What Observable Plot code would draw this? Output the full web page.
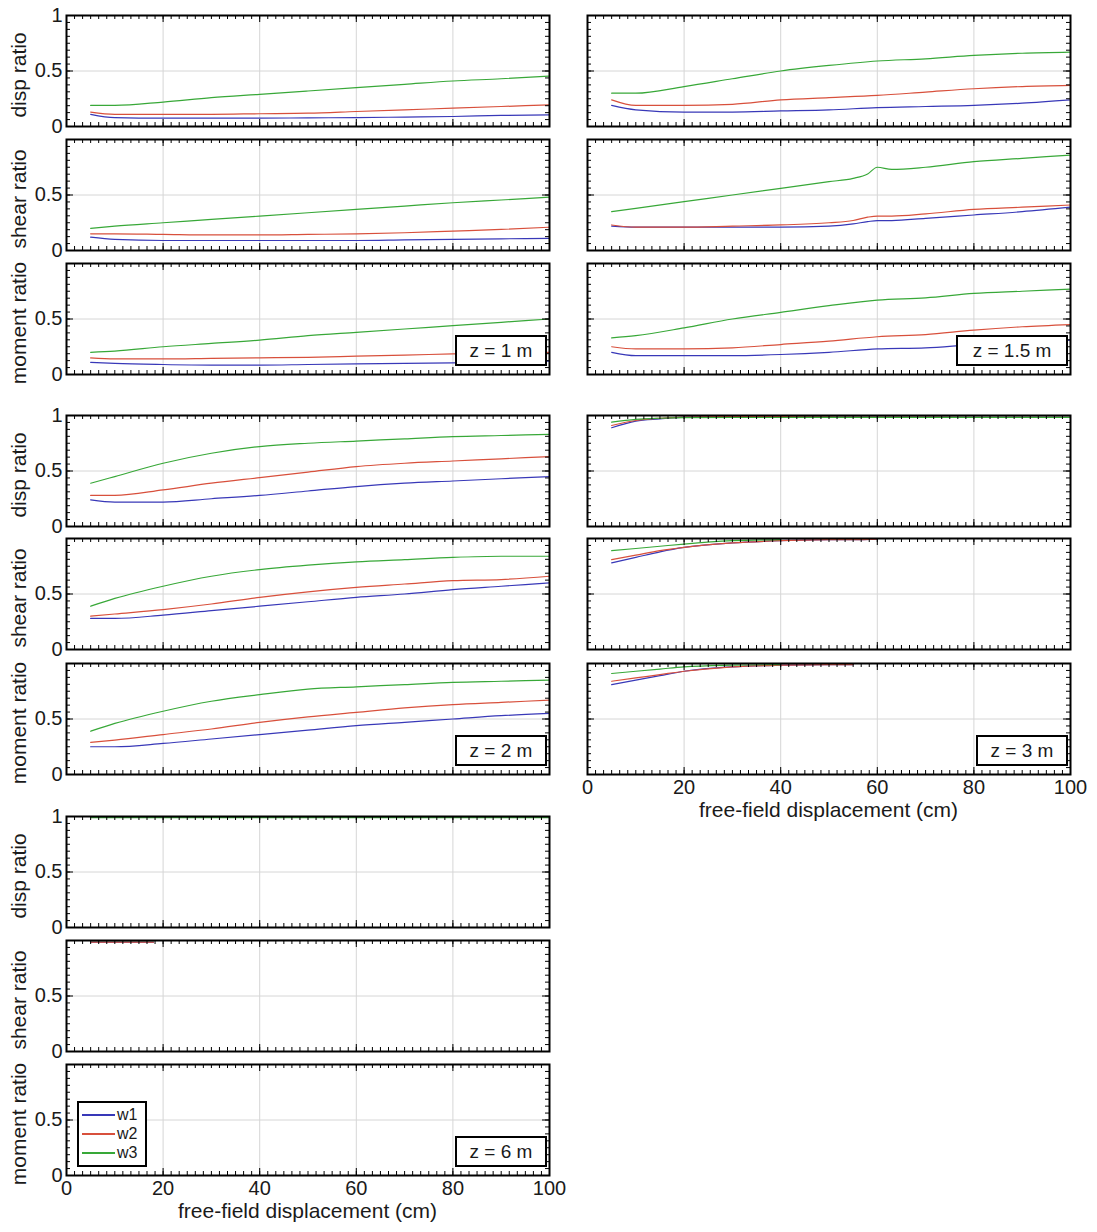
<!DOCTYPE html>
<html><head><meta charset="utf-8">
<script src="https://cdn.jsdelivr.net/npm/d3@7"></script>
<script src="https://cdn.jsdelivr.net/npm/@observablehq/plot@0.6"></script>
<style>
body{margin:0;background:#fff;}
#root{position:relative;width:1097px;height:1232px;font-family:"Liberation Sans",Arial,sans-serif;color:#1a1a1a;overflow:hidden;background:#fff}
.panel{position:absolute}
.ylab{position:absolute;transform:translate(-50%,-50%) rotate(-90deg);white-space:nowrap;font-size:21px}
.xlab{position:absolute;transform:translateX(-50%);white-space:nowrap;font-size:21px}
.zbox{position:absolute;border:2px solid #000;background:#fff;font-size:19px;display:flex;align-items:center;justify-content:center;box-sizing:border-box;white-space:nowrap}
.legend{position:absolute;border:2px solid #000;background:#fff;box-sizing:border-box;font-size:16px}
.legend .row{position:absolute;left:3px;height:18px;display:flex;align-items:center}
.legend .sw{width:33px;height:0;border-top:2px solid;margin-right:2px}
</style></head><body><div id="root"></div>
<script>
// ---------------- data ----------------
const series = ["w1", "w2", "w3"];
const seriesColors = ["#3838b8", "#d8503c", "#38a838"];
const quantities = ["disp ratio", "shear ratio", "moment ratio"];
const depthLabels = ["z = 1 m", "z = 1.5 m", "z = 2 m", "z = 3 m", "z = 6 m"];
const xTickLabels = [0, 20, 40, 60, 80, 100];
const xAxisTitle = "free-field displacement (cm)";

const x_std = [5, 10, 20, 30, 40, 50, 60, 70, 80, 90, 100];
const x_bump = [5, 10, 20, 30, 40, 50, 55, 58, 60, 63, 70, 80, 90, 100];
const x_z3 = [5, 10, 15, 20, 30, 40, 50, 55, 60, 70, 80, 90, 100];
const x_z6 = [5, 10, 15, 18, 20, 30, 40, 50, 60, 70, 80, 90, 100];

// z = 1 m  (rows: w1, w2, w3)
const z1_disp = [
  [0.11, 0.08, 0.075, 0.075, 0.075, 0.078, 0.08, 0.085, 0.09, 0.1, 0.105],
  [0.13, 0.11, 0.11, 0.11, 0.115, 0.12, 0.135, 0.15, 0.165, 0.18, 0.195],
  [0.19, 0.19, 0.22, 0.26, 0.29, 0.32, 0.35, 0.38, 0.41, 0.43, 0.455]];
const z1_shear = [
  [0.12, 0.1, 0.09, 0.09, 0.09, 0.09, 0.09, 0.095, 0.1, 0.105, 0.11],
  [0.15, 0.15, 0.145, 0.14, 0.14, 0.145, 0.15, 0.16, 0.175, 0.19, 0.21],
  [0.2, 0.22, 0.25, 0.28, 0.31, 0.34, 0.37, 0.4, 0.43, 0.455, 0.48]];
const z1_moment = [
  [0.11, 0.1, 0.09, 0.085, 0.085, 0.09, 0.095, 0.1, 0.105, 0.11, 0.12],
  [0.15, 0.14, 0.14, 0.145, 0.15, 0.155, 0.165, 0.175, 0.185, 0.195, 0.2],
  [0.2, 0.21, 0.25, 0.28, 0.31, 0.35, 0.38, 0.41, 0.44, 0.47, 0.5]];

// z = 1.5 m
const z15_disp = [
  [0.19, 0.15, 0.13, 0.13, 0.14, 0.15, 0.17, 0.18, 0.19, 0.21, 0.24],
  [0.24, 0.19, 0.19, 0.2, 0.24, 0.26, 0.28, 0.31, 0.34, 0.36, 0.37],
  [0.3, 0.3, 0.36, 0.43, 0.5, 0.55, 0.59, 0.61, 0.64, 0.66, 0.67]];
const z15_shear = [ // on x_bump
  [0.22, 0.21, 0.21, 0.21, 0.21, 0.22, 0.24, 0.26, 0.27, 0.27, 0.29, 0.32, 0.35, 0.39],
  [0.23, 0.21, 0.21, 0.22, 0.23, 0.25, 0.27, 0.3, 0.31, 0.31, 0.33, 0.37, 0.39, 0.41],
  [0.35, 0.38, 0.44, 0.5, 0.56, 0.62, 0.65, 0.69, 0.75, 0.73, 0.75, 0.8, 0.83, 0.86]];
const z15_moment = [
  [0.2, 0.17, 0.17, 0.17, 0.18, 0.2, 0.23, 0.24, 0.27, 0.29, 0.31],
  [0.25, 0.23, 0.23, 0.24, 0.27, 0.3, 0.34, 0.36, 0.4, 0.43, 0.45],
  [0.33, 0.35, 0.42, 0.5, 0.56, 0.62, 0.67, 0.69, 0.73, 0.75, 0.77]];

// z = 2 m
const z2_disp = [
  [0.24, 0.22, 0.22, 0.25, 0.28, 0.32, 0.36, 0.39, 0.41, 0.43, 0.45],
  [0.28, 0.28, 0.33, 0.39, 0.44, 0.49, 0.54, 0.57, 0.59, 0.61, 0.63],
  [0.39, 0.45, 0.57, 0.66, 0.72, 0.75, 0.77, 0.79, 0.81, 0.82, 0.83]];
const z2_shear = [
  [0.28, 0.28, 0.31, 0.35, 0.39, 0.43, 0.47, 0.5, 0.54, 0.57, 0.6],
  [0.3, 0.32, 0.36, 0.41, 0.47, 0.52, 0.56, 0.59, 0.62, 0.63, 0.66],
  [0.39, 0.46, 0.57, 0.66, 0.72, 0.76, 0.79, 0.81, 0.83, 0.84, 0.84]];
const z2_moment = [
  [0.25, 0.25, 0.28, 0.32, 0.36, 0.4, 0.44, 0.47, 0.5, 0.53, 0.55],
  [0.29, 0.31, 0.36, 0.41, 0.47, 0.52, 0.56, 0.6, 0.63, 0.65, 0.67],
  [0.39, 0.46, 0.57, 0.66, 0.72, 0.77, 0.79, 0.81, 0.83, 0.84, 0.85]];

// z = 3 m  (null = no value)
const z3_disp = [
  [0.89, 0.95, 0.97, 0.985, 0.99, 0.993, 0.995, 0.996, 0.996, 0.997, 0.998, 0.998, 0.998],
  [0.91, 0.955, 0.975, 0.985, 0.99, 0.993, 0.995, 0.996, 0.996, 0.997, 0.998, 0.998, 0.998],
  [0.94, 0.965, 0.975, 0.98, 0.982, 0.982, 0.983, 0.983, 0.983, 0.983, 0.983, 0.983, 0.983]];
const z3_shear = [
  [0.78, 0.83, 0.88, 0.92, 0.96, 0.98, 0.99, 0.99, 0.995, null, null, null, null],
  [0.81, 0.85, 0.89, 0.92, 0.96, 0.98, 0.99, 0.99, 0.995, null, null, null, null],
  [0.89, 0.91, 0.93, 0.95, 0.98, 0.99, null, null, null, null, null, null, null]];
const z3_moment = [
  [0.81, 0.85, 0.89, 0.93, 0.97, 0.985, 0.99, 0.99, null, null, null, null, null],
  [0.84, 0.87, 0.9, 0.93, 0.97, 0.985, 0.99, 0.99, null, null, null, null, null],
  [0.91, 0.93, 0.95, 0.97, 0.985, 0.99, null, null, null, null, null, null, null]];

// z = 6 m
const z6_disp = [
  [0.995, 0.995, 0.995, 0.995, 0.995, 0.995, 0.995, 0.995, 0.995, 0.995, 0.995, 0.995, 0.995],
  [0.995, 0.995, 0.995, 0.995, 0.995, 0.995, 0.995, 0.995, 0.995, 0.995, 0.995, 0.995, 0.995],
  [0.99, 0.99, 0.99, 0.99, 0.99, 0.99, 0.99, 0.99, 0.99, 0.99, 0.99, 0.99, 0.99]];
const z6_shear = [
  [0.985, 0.985, 0.985, 0.985, null, null, null, null, null, null, null, null, null],
  [0.985, 0.985, 0.985, 0.985, null, null, null, null, null, null, null, null, null],
  [0.998, 0.998, 0.998, 0.998, null, null, null, null, null, null, null, null, null]];
const z6_moment = [
  [1, 1, 1, 1, null, null, null, null, null, null, null, null, null],
  [1, 1, 1, 1, null, null, null, null, null, null, null, null, null],
  [1, 1, 1, 1, null, null, null, null, null, null, null, null, null]];

// ---------------- layout ----------------
const W = 483, H = 111;
const colLeft = [66, 587];
const rowTops = [[15, 139, 263], [415, 538, 663], [816, 940, 1064]];

const groups = [
  {label: depthLabels[0], col: 0, row: 0, panels: [[x_std, z1_disp], [x_std, z1_shear], [x_std, z1_moment]], boxW: 92},
  {label: depthLabels[1], col: 1, row: 0, panels: [[x_std, z15_disp], [x_bump, z15_shear], [x_std, z15_moment]], boxW: 112},
  {label: depthLabels[2], col: 0, row: 1, panels: [[x_std, z2_disp], [x_std, z2_shear], [x_std, z2_moment]], boxW: 92},
  {label: depthLabels[3], col: 1, row: 1, panels: [[x_z3, z3_disp], [x_z3, z3_shear], [x_z3, z3_moment]], boxW: 92, xAxis: true},
  {label: depthLabels[4], col: 0, row: 2, panels: [[x_z6, z6_disp], [x_z6, z6_shear], [x_z6, z6_moment]], boxW: 92, xAxis: true, legend: true}
];

const minorX = d3.range(0, 100.0001, 20 / 12);
const majorX = [0, 20, 40, 60, 80, 100];
const minorY = d3.range(0, 1.0001, 1 / 16);
const majorY = [0, 0.5, 1];

const root = document.getElementById("root");

function makePanel(xs, rows, opts) {
  const data = [];
  rows.forEach((r, i) => r.forEach((v, j) => data.push({x: xs[j], y: v, s: series[i]})));
  const ml = 60, mr = 26, mt = 12, mb = opts.xAxis ? 34 : 12;
  const marks = [
    Plot.ruleX([20, 40, 60, 80], {stroke: "#d6d6d6", strokeWidth: 1}),
    Plot.ruleY([0.5], {stroke: "#d6d6d6", strokeWidth: 1}),
    Plot.line(data, {x: "x", y: "y", z: "s", stroke: "s", strokeWidth: 1.2, curve: "monotone-x"}),
    // inward minor/major ticks
    Plot.tickX(minorX, {x: d => d, insetTop: H - 4, stroke: "#000"}),
    Plot.tickX(minorX, {x: d => d, insetBottom: H - 4, stroke: "#000"}),
    Plot.tickX(majorX, {x: d => d, insetTop: H - 7, stroke: "#000"}),
    Plot.tickX(majorX, {x: d => d, insetBottom: H - 7, stroke: "#000"}),
    Plot.tickY(minorY, {y: d => d, insetRight: W - 4, stroke: "#000"}),
    Plot.tickY(minorY, {y: d => d, insetLeft: W - 4, stroke: "#000"}),
    Plot.tickY(majorY, {y: d => d, insetRight: W - 7, stroke: "#000"}),
    Plot.tickY(majorY, {y: d => d, insetLeft: W - 7, stroke: "#000"}),
    Plot.frame({stroke: "#000", strokeWidth: 2})
  ];
  if (opts.yTicks) {
    marks.push(Plot.axisY(opts.yTicks, {anchor: "left", tickSize: 0, tickPadding: 4, fontSize: 20, fill: "#1a1a1a",
      label: null, tickFormat: d => String(d)}));
  }
  if (opts.xAxis) {
    marks.push(Plot.axisX(xTickLabels, {anchor: "bottom", tickSize: 0, tickPadding: 5, fontSize: 20, fill: "#1a1a1a",
      label: null, tickFormat: d => String(d)}));
  }
  const svg = Plot.plot({
    width: W + ml + mr, height: H + mt + mb,
    marginLeft: ml, marginRight: mr, marginTop: mt, marginBottom: mb,
    style: {fontFamily: '"Liberation Sans", Arial, sans-serif', background: "transparent", overflow: "visible"},
    x: {domain: [0, 100], axis: null, label: null},
    y: {domain: [0, 1], axis: null, label: null},
    color: {domain: series, range: seriesColors},
    marks
  });
  svg.classList.add("panel");
  svg.style.left = (opts.left - ml) + "px";
  svg.style.top = (opts.top - mt) + "px";
  return svg;
}

groups.forEach(g => {
  const left = colLeft[g.col];
  g.panels.forEach(([xs, rows], k) => {
    const top = rowTops[g.row][k];
    const isLeft = g.col === 0;
    const yTicks = isLeft ? (k === 0 ? [0, 0.5, 1] : [0, 0.5]) : null;
    root.appendChild(makePanel(xs, rows, {left, top, yTicks, xAxis: g.xAxis && k === 2}));
    if (isLeft) {
      const lab = document.createElement("div");
      lab.className = "ylab";
      lab.textContent = quantities[k];
      lab.style.left = "19px";
      lab.style.top = (top + H / 2 + 4) + "px";
      root.appendChild(lab);
    }
  });
  const bottom = rowTops[g.row][2] + H;
  const box = document.createElement("div");
  box.className = "zbox";
  box.textContent = g.label;
  box.style.width = g.boxW + "px";
  box.style.height = "31px";
  box.style.left = (left + W - 2 - g.boxW) + "px";
  box.style.top = (bottom - 8 - 31) + "px";
  root.appendChild(box);
  if (g.xAxis) {
    const xl = document.createElement("div");
    xl.className = "xlab";
    xl.textContent = xAxisTitle;
    xl.style.left = (left + W / 2) + "px";
    xl.style.top = (bottom + 24) + "px";
    root.appendChild(xl);
  }
  if (g.legend) {
    const lg = document.createElement("div");
    lg.className = "legend";
    lg.style.left = (left + 11) + "px";
    lg.style.top = (bottom - 74) + "px";
    lg.style.width = "70px";
    lg.style.height = "66px";
    series.forEach((s, i) => {
      const r = document.createElement("div");
      r.className = "row";
      r.style.top = (3 + i * 19) + "px";
      const sw = document.createElement("span");
      sw.className = "sw";
      sw.style.borderTopColor = seriesColors[i];
      const t = document.createElement("span");
      t.textContent = s;
      r.appendChild(sw); r.appendChild(t);
      lg.appendChild(r);
    });
    root.appendChild(lg);
  }
});
</script></body></html>
